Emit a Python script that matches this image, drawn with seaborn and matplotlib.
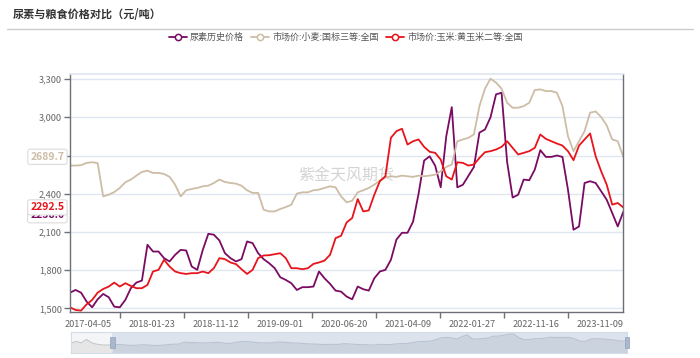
import numpy as np
import pandas as pd
import matplotlib.pyplot as plt
import seaborn as sns
from matplotlib.lines import Line2D
from matplotlib.patches import Rectangle

# samples every 25 categories (daily category axis of the original chart)
step = 25

urea = [1623, 1644, 1623, 1553, 1508, 1571, 1613, 1587, 1513, 1508,
        1566, 1658, 1702, 1718, 1999, 1946, 1946, 1894, 1868, 1920,
        1959, 1954, 1828, 1802, 1959, 2085, 2078, 2033, 1933, 1894,
        1868, 1886, 2025, 2012, 1933, 1886, 1854, 1815, 1744, 1723,
        1697, 1644, 1666, 1666, 1671, 1789, 1736, 1692, 1639, 1631,
        1592, 1571, 1671, 1650, 1639, 1736, 1789, 1802, 1881, 2040,
        2093, 2093, 2180, 2400, 2660, 2694, 2620, 2450, 2850, 3080,
        2450, 2470, 2540, 2610, 2880, 2904, 3000, 3180, 3193, 2650,
        2370, 2392, 2511, 2506, 2589, 2742, 2689, 2689, 2700, 2689,
        2432, 2117, 2143, 2484, 2498, 2484, 2419, 2353, 2248, 2143,
        2258]

wheat = [2621, 2621, 2624, 2642, 2647, 2640, 2379, 2392, 2413, 2445,
         2490, 2511, 2542, 2571, 2581, 2563, 2563, 2555, 2532, 2471,
         2379, 2427, 2437, 2445, 2458, 2463, 2484, 2511, 2492, 2484,
         2479, 2463, 2427, 2406, 2406, 2274, 2261, 2261, 2280, 2295,
         2314, 2401, 2411, 2411, 2427, 2432, 2445, 2458, 2450, 2379,
         2332, 2345, 2411, 2427, 2445, 2471, 2503, 2529, 2537, 2532,
         2542, 2537, 2532, 2542, 2537, 2542, 2550, 2576, 2610, 2629,
         2812, 2826, 2839, 2865, 3088, 3225, 3303, 3272, 3225, 3114,
         3075, 3075, 3088, 3114, 3214, 3219, 3206, 3206, 3193, 3088,
         2852, 2734, 2812, 2891, 3036, 3046, 3002, 2936, 2826, 2812,
         2689.7]

corn = [1508, 1487, 1482, 1531, 1566, 1623, 1652, 1671, 1702, 1671,
        1697, 1676, 1658, 1658, 1684, 1789, 1802, 1881, 1828, 1789,
        1776, 1770, 1776, 1776, 1789, 1776, 1815, 1894, 1886, 1860,
        1847, 1807, 1770, 1802, 1894, 1915, 1917, 1925, 1933, 1894,
        1815, 1815, 1807, 1815, 1849, 1860, 1875, 1920, 2051, 2070,
        2175, 2209, 2358, 2261, 2269, 2392, 2498, 2537, 2839, 2891,
        2910, 2786, 2812, 2826, 2768, 2729, 2721, 2668, 2537, 2511,
        2647, 2642, 2621, 2629, 2681, 2726, 2734, 2747, 2768, 2812,
        2760, 2708, 2721, 2734, 2760, 2865, 2831, 2812, 2794, 2778,
        2734, 2663, 2778, 2826, 2873, 2694, 2576, 2471, 2314, 2327,
        2292.5]

# urea before the zoom window, only visible in the slider
urea_early = [1840, 2100, 1900, 2400, 1900, 1700, 1600, 1560]

x_labels = ['2017-04-05', '2018-01-23', '2018-11-12', '2019-09-01', '2020-06-20',
            '2021-04-09', '2022-01-27', '2022-11-16', '2023-11-09']

names = ['尿素历史价格', '市场价:小麦:国标三等:全国', '市场价:玉米:黄玉米二等:全国']
colors = ['#7a0b63', '#cdbda6', '#e8141b']

x = np.arange(len(urea)) * step
df = pd.DataFrame({'x': np.tile(x, 3),
                   'value': urea + wheat + corn,
                   'series': np.repeat(names, len(x))})

sns.set_theme(style='white')
plt.rcParams['font.family'] = ['Noto Sans CJK SC', 'DejaVu Sans']

fig = plt.figure(figsize=(7, 3.58), dpi=100)
ax = fig.add_axes([70 / 700, 1 - 311.5 / 358, 553.3 / 700, 237.5 / 358])

sns.lineplot(data=df, x='x', y='value', hue='series', hue_order=names,
             palette=colors, linewidth=1.3, legend=False, ax=ax)

ax.set_xlim(0, x[-1])
ax.set_ylim(1475, 3340)
yt = np.arange(1500, 3301, 300)
ax.set_yticks(yt)
# the 2,700 label sits under the last-value box in the original
ax.set_yticklabels(['' if v == 2700 else f'{v:,}' for v in yt])
ax.yaxis.grid(True, color='#e0e6f1', linewidth=1)
ax.set_axisbelow(True)

lab_pos = 81 + 289 * np.arange(len(x_labels))
ax.set_xticks(lab_pos)
ax.set_xticklabels(x_labels)
ax.set_xticks(lab_pos[:-1] + 144.5, minor=True)
ax.tick_params(axis='x', which='major', length=0, pad=6, labelsize=6.6, labelcolor='#666666')
ax.tick_params(axis='x', which='minor', length=4, width=1, color='#6e7079', direction='out', bottom=True)
ax.tick_params(axis='y', length=4, width=1, color='#6e7079', direction='out', left=True,
               pad=2, labelsize=6.6, labelcolor='#666666')
ax.set_xlabel('')
ax.set_ylabel('')

for side in ['left', 'bottom', 'right']:
    ax.spines[side].set_color('#6e7079')
    ax.spines[side].set_linewidth(1)
ax.spines['top'].set_color('#e0e6f1')

ax.text(0.5, 0.57, '紫金天风期货', transform=ax.transAxes, ha='center', va='center',
        fontsize=11.5, color='#d4d4d4', zorder=0)

# last-value labels on the y axis
for val, col, dy in [(urea[-1], colors[0], -2.5), (corn[-1], colors[2], 0), (wheat[-1], colors[1], 0)]:
    ax.annotate(f'{val:.1f}', xy=(0, val), xycoords=('axes fraction', 'data'),
                xytext=(-4, dy), textcoords='offset points', ha='right', va='center',
                fontsize=7.5, fontweight='bold', color=col, annotation_clip=False,
                bbox=dict(boxstyle='round,pad=0.25,rounding_size=0.2', fc='white', ec='#dcdcdc', lw=0.8))

# title and separator
fig.text(13 / 700, 1 - 15 / 358, '尿素与粮食价格对比（元/吨）', fontsize=8, fontweight='bold',
         color='#333333', va='center', ha='left')
fig.add_artist(Line2D([7 / 700, 693 / 700], [1 - 29.3 / 358] * 2, color='#cccccc', lw=1))

handles = [Line2D([0], [0], color=c, lw=1.3, marker='o', markersize=4.5,
                  markerfacecolor='white', markeredgecolor=c, markeredgewidth=1.1) for c in colors]
fig.legend(handles, names, loc='center', bbox_to_anchor=(346 / 700, 1 - 37.3 / 358), ncol=3,
           frameon=False, fontsize=6.5, handlelength=2.0, handletextpad=0.35,
           columnspacing=0.8, labelcolor='#555555')

# data-zoom slider
sx = np.arange(-len(urea_early), len(urea)) * step
sy = np.array(urea_early + urea)
ax2 = fig.add_axes([71 / 700, 1 - 353 / 358, 556 / 700, 21 / 358])
ax2.set_xlim(sx[0], sx[-1])
ax2.set_ylim(400, 3500)
ax2.axvspan(sx[0], 0, color='#f4f5f7', zorder=0)
ax2.axvspan(0, sx[-1], color='#dde3ec', zorder=0)
early = sx <= 0
ax2.fill_between(sx[early], 400, sy[early], color='#e6e6e6', lw=0)
ax2.plot(sx[early], sy[early], color='#c8c8c8', lw=0.8)
ax2.fill_between(sx[sx >= 0], 400, sy[sx >= 0], color='#cbd3df', lw=0)
ax2.plot(sx[sx >= 0], sy[sx >= 0], color='#b9c3d1', lw=0.8)
for hx in [0, sx[-1]]:
    ax2.add_patch(Rectangle((hx - 12, 0.22), 24, 0.56, transform=ax2.get_xaxis_transform(),
                            facecolor='#a9b8cc', edgecolor='#8fa2bb', lw=0.5, clip_on=False, zorder=5))
ax2.set_xticks([])
ax2.set_yticks([])
for s in ax2.spines.values():
    s.set_color('#d2dbe6')
    s.set_linewidth(0.8)

fig.savefig('out.png', dpi=100, facecolor='white')
